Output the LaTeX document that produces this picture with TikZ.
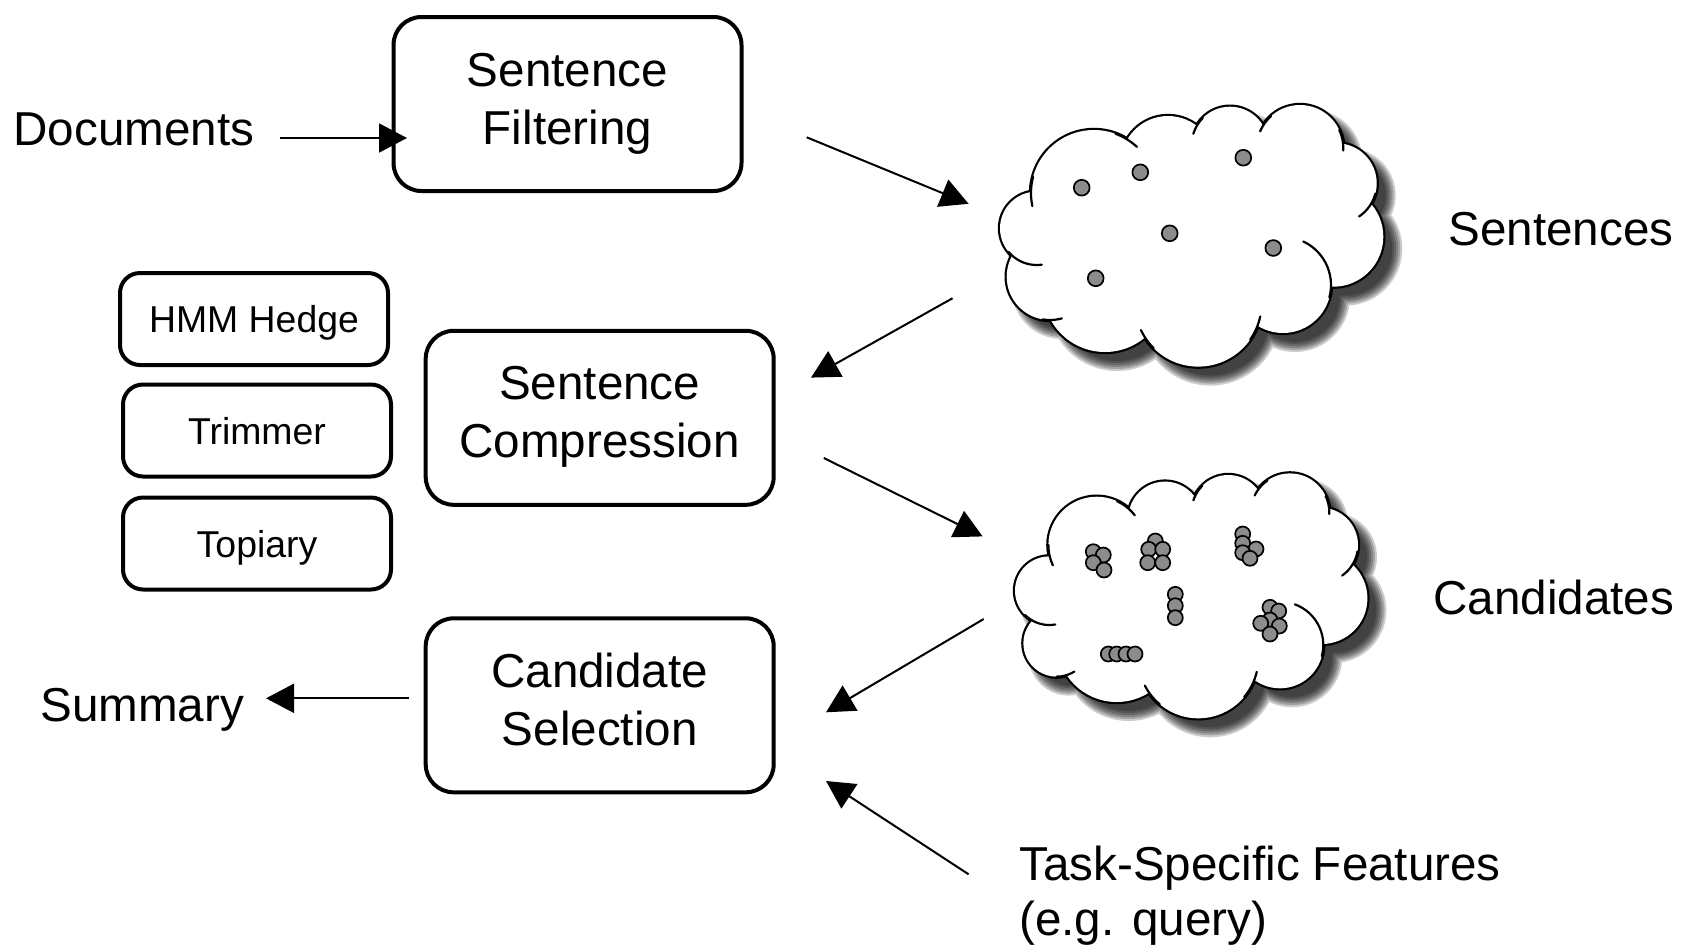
\documentclass[tikz,border=0pt]{standalone}
\usepackage{fontspec}
\setmainfont{Liberation Sans}
\usetikzlibrary{arrows.meta}
\definecolor{dotgray}{HTML}{8C8C8C}

% bump circles of each cloud: centre x / centre y / radius
\def\cloudAbumps{1036.7/228.3/36.7, 1050/276.7/43.3, 1105/290/62, 1198.3/303.3/63.3,
  1283/285/48, 1333.3/236.7/50, 1336.7/183.3/40, 1300/148.3/43.3, 1230/145/38.3,
  1168/163/47, 1094/193/63}
\def\cloudBbumps{1049.3/590.7/34.3, 1056.7/643.3/33.3, 1116.7/642/60, 1198.3/658.3/60,
  1280/645/43.3, 1321.7/598.3/45.7, 1320.7/545/37.3, 1290/512.7/39.3, 1228.3/511.7/36.7,
  1165/518.3/36.7, 1096.7/545/48.3}
% short inner strokes where one bump runs on into the next: centre / radius / from / to
\def\cloudAticks{1094/193/63/168/195, 1036.7/228.3/36.7/82/140, 1050/276.7/43.3/74/100,
  1198.3/303.3/63.3/135/155, 1198.3/303.3/63.3/12/35, 1283/285/48/-65/15,
  1336.7/183.3/40/15/56, 1300/148.3/43.3/-25/3, 1300/148.3/43.3/203/228,
  1230/145/38.3/197/225, 1094/193/63/-70/-47}
\def\cloudBticks{1096.7/545/48.3/155/180, 1049.3/590.7/34.3/80/135, 1056.7/643.3/33.3/58/90,
  1198.3/658.3/60/130/153, 1198.3/658.3/60/13/40, 1280/645/43.3/-70/15,
  1320.7/545/37.3/10/55, 1290/512.7/39.3/-25/2, 1290/512.7/39.3/206/235,
  1228.3/511.7/36.7/198/225, 1096.7/545/48.3/-65/-38}

% #1 bumps, #2 inner strokes, #3/#4 core centre, #5/#6 core radii
\newcommand\drawcloud[6]{%
  \foreach \e in {7,5,3,1,-1,-3}{%
    \fill[black, opacity=0.2, shift={(12,12)}]
      \foreach \cx/\cy/\r in #1 {(\cx,\cy) circle[radius={\r+(\e)}]}
      (#3,#4) ellipse[x radius={#5+(\e)}, y radius={#6+(\e)}];
  }
  \foreach \cx/\cy/\r in #1 {\draw[line width=2.2pt] (\cx,\cy) circle[radius=\r];}
  \fill[white] \foreach \cx/\cy/\r in #1 {(\cx,\cy) circle[radius=\r]}
    (#3,#4) ellipse[x radius=#5, y radius=#6];
  \foreach \cx/\cy/\r/\a/\b in #2 {%
    \draw[line width=1.1pt, line cap=round]
      plot[domain=\a:\b, samples=16, variable=\t] ({\cx+\r*cos(\t)},{\cy+\r*sin(\t)});}
}

\begin{document}
\begin{tikzpicture}[x=0.5pt, y=-0.5pt,
  stage/.style={draw, line width=2pt, rounded corners=14pt, minimum width=174pt,
    minimum height=87pt, inner sep=0pt, align=center,
    font=\fontsize{23.8}{29}\selectfont},
  method/.style={draw, line width=2pt, rounded corners=10pt, minimum width=134pt,
    minimum height=46pt, inner sep=0pt, font=\fontsize{18.7}{22}\selectfont,
    text height=18.5pt, text depth=5pt},
  lbl/.style={inner sep=0pt, font=\fontsize{23.8}{27.5}\selectfont},
  arr/.style={line width=1pt, -{Triangle[length=14pt,width=14.5pt]}},
  dot/.style={circle, fill=dotgray, draw=black, line width=0.85pt, inner sep=0pt},
]
\fill[white] (0,0) rectangle (1682,949);
\useasboundingbox (0,0) rectangle (1682,949);

% clouds of sentences and candidates
\drawcloud{\cloudAbumps}{\cloudAticks}{1190}{235}{150}{80}
\drawcloud{\cloudBbumps}{\cloudBticks}{1193.3}{593.3}{140}{68}

% single sentences
\foreach \px/\py [count=\i] in {1081.7/187.7, 1140.3/172.3, 1243.3/157.7, 1169.7/233.3,
    1273.3/248, 1095.7/278.3}
  \node[dot, minimum size=7.9pt] (s\i) at (\px,\py) {};

% compressed candidates, in clusters
\foreach \px/\py [count=\i] in {1093.3/551.7, 1103.3/555, 1093.3/562.7, 1104/570,
    1155.3/541, 1148.7/549.3, 1162.7/549.3, 1147.7/562.7, 1162.7/562.7,
    1242.7/534, 1242.7/543.3, 1256/549, 1242.7/552.7, 1250/558.3,
    1175.3/594.3, 1175.3/605.7, 1175.3/617.7,
    1270/607.3, 1278.7/611, 1270/620, 1260.7/623.3, 1279.3/626, 1270/634,
    1108.3/654, 1116.7/654, 1126/654, 1135/654}
  \node[dot, minimum size=7.5pt] (c\i) at (\px,\py) {};

% pipeline stages
\node[stage] (filt) at (567.5,104) {\rule{0pt}{19pt}Sentence\\Filtering\rule[-8pt]{0pt}{0pt}};
\node[stage] (comp) at (599.7,417.8) {\rule{0pt}{19pt}Sentence\\Compression\rule[-8pt]{0pt}{0pt}};
\node[stage] (sel) at (599.7,705.3) {\rule{0pt}{19pt}Candidate\\Selection\rule[-8pt]{0pt}{0pt}};

% compression methods
\node[method] (hmm) at (254,319) {HMM Hedge};
\node[method] (trim) at (257,430.5) {Trimmer};
\node[method] (topi) at (257,543.5) {Topiary};

% labels
\node[lbl, anchor=base west] (docs) at (13,145) {Documents};
\node[lbl, anchor=base west] (sents) at (1448,245.7) {Sentences};
\node[lbl, anchor=base west] (cands) at (1433,614.5) {Candidates};
\node[lbl, anchor=base west] (summ) at (40,721) {Summary};
\node[lbl, anchor=north west, align=left] (task) at (1019,844)
  {\rule{0pt}{18pt}Task-Specific Features\\(e.g. query)};

% arrow ends
\coordinate (a1s) at (280,138);     \coordinate (a1e) at (407,138);
\coordinate (a2s) at (806.7,137.3); \coordinate (a2e) at (968.6,203.8);
\coordinate (a3s) at (952.6,298.2); \coordinate (a3e) at (811,377.6);
\coordinate (a4s) at (823.8,458);   \coordinate (a4e) at (982.6,536.4);
\coordinate (a5s) at (983.7,619);   \coordinate (a5e) at (826,712.3);
\coordinate (a6s) at (408.7,698.3); \coordinate (a6e) at (266,698.3);
\coordinate (a7s) at (968.6,874.3); \coordinate (a7e) at (826,781);

\draw[arr] (a1s) -- (a1e);
\draw[arr] (a2s) -- (a2e);
\draw[arr] (a3s) -- (a3e);
\draw[arr] (a4s) -- (a4e);
\draw[arr] (a5s) -- (a5e);
\draw[arr] (a6s) -- (a6e);
\draw[arr] (a7s) -- (a7e);
\end{tikzpicture}
\end{document}
